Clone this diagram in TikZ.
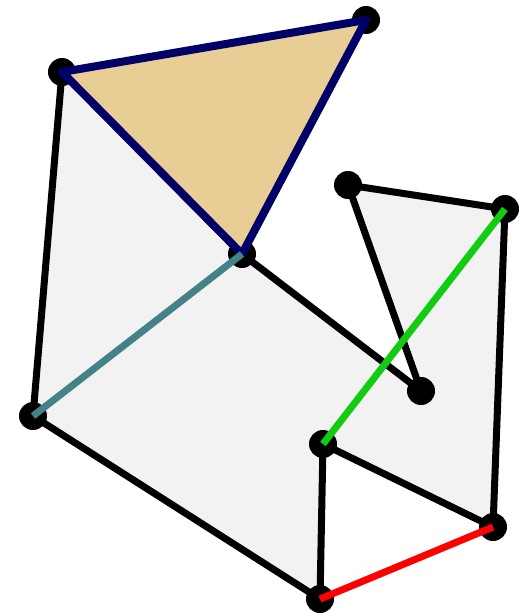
\documentclass[tikz,border=0pt]{standalone}
\usetikzlibrary{calc}
\definecolor{polyfill}{HTML}{F2F2F2}
\definecolor{tan}{HTML}{E8CE94}
\definecolor{navyline}{HTML}{000066}
\definecolor{tealline}{HTML}{458288}
\definecolor{greenline}{HTML}{11CC11}
\definecolor{redline}{HTML}{FF0000}
\tikzset{
  vdot/.style={circle,fill=black,inner sep=0pt,minimum size=28pt},
  edge/.style={line width=7pt,line join=round},
  seg/.style={line width=7pt},
}
\begin{document}
\begin{tikzpicture}[x=1pt,y=-1pt]
\useasboundingbox (0,0) rectangle (521,616);
\coordinate (A) at (62,72);
\coordinate (B) at (366,20);
\coordinate (C) at (242,254);
\coordinate (D) at (348,185);
\coordinate (E) at (505,209);
\coordinate (F) at (421,391);
\coordinate (G) at (323,444);
\coordinate (H) at (33,416);
\coordinate (I) at (320,599);
\coordinate (J) at (493,527);
% gray polygon
\draw[edge,fill=polyfill] (A) -- (H) -- (I) -- (G) -- (J) -- (E) -- (D) -- (F) -- (C) -- cycle;
% dots
\foreach \p in {A,B,C,D,E,F,G,H,I,J}
  \node[vdot] (d\p) at (\p) {};
% triangle
\draw[line width=8pt,line join=round,draw=navyline,fill=tan] (A) -- (B) -- (C) -- cycle;
% coloured segments
\draw[seg,tealline] (C) -- (H);
\draw[seg,greenline] (G) -- (E);
\draw[seg,redline] (I) -- (J);
\end{tikzpicture}
\end{document}
